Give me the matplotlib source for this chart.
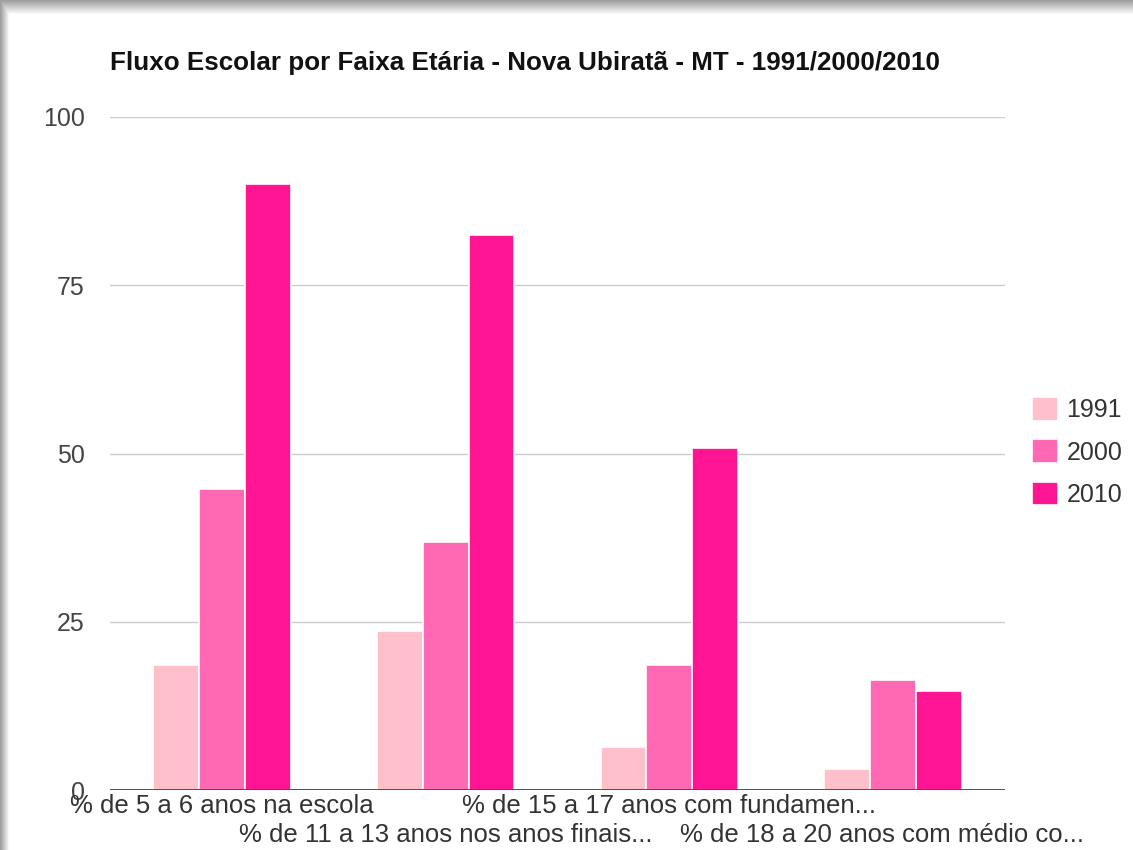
import numpy as np
import matplotlib
matplotlib.use("Agg")
import matplotlib.pyplot as plt

categories = [
    "% de 5 a 6 anos na escola",
    "% de 11 a 13 anos nos anos finais...",
    "% de 15 a 17 anos com fundamen...",
    "% de 18 a 20 anos com médio co...",
]
years = ["1991", "2000", "2010"]
v1991 = [18.6, 23.6, 6.4, 3.1]
v2000 = [44.7, 36.9, 18.6, 16.3]
v2010 = [90.0, 82.5, 50.8, 14.7]
colors = ["#FFC0CB", "#FF69B4", "#FF1493"]

plt.rcParams["font.family"] = ["Liberation Sans", "DejaVu Sans"]

fig = plt.figure(figsize=(11.33, 8.5), dpi=100)

# drop shadow frame along top and left edges
bg = fig.add_axes([0, 0, 1, 1], zorder=-10)
bg.set_axis_off()
h, w = 850, 1133
img = np.ones((h, w))
top = np.clip(np.arange(h) / 14.0, 0, 1)
left = np.clip(np.arange(w) / 9.0, 0, 1)
img = np.minimum(img, 0.62 + 0.38 * top[:, None])
img = np.minimum(img, 0.62 + 0.38 * left[None, :])
bg.imshow(img, cmap="gray", vmin=0, vmax=1, aspect="auto", extent=[0, 1, 0, 1])
bg.set_xlim(0, 1)
bg.set_ylim(0, 1)

ax = fig.add_axes([110 / w, 60 / h, 895 / w, 673 / h])
x = np.arange(len(categories))
width = 0.205
for i, (vals, yr) in enumerate(zip([v1991, v2000, v2010], years)):
    ax.bar(x + (i - 1) * width, vals, width, color=colors[i], edgecolor="white",
           linewidth=1.2, label=yr, zorder=3)

ax.set_xlim(-0.5, 3.5)
ax.set_ylim(0, 100)
ax.set_yticks([0, 25, 50, 75, 100])
ax.grid(axis="y", color="#cccccc", linewidth=1, zorder=0)
ax.axhline(0, color="#333333", linewidth=1.2, zorder=4)
for s in ax.spines.values():
    s.set_visible(False)
ax.tick_params(axis="y", length=0, pad=18, labelsize=18, labelcolor="#444444")
ax.tick_params(axis="x", length=0)
ax.set_xticks(x)
ax.set_xticklabels([])
offsets = [0.0, 0.0, 0.0, -0.05]
for i, lab in enumerate(categories):
    dy = -0.024 if i % 2 == 0 else -0.067
    ax.text(i + offsets[i], dy, lab, transform=ax.get_xaxis_transform(), ha="center", va="center",
            fontsize=18.5, color="#333333")

fig.text(110 / w, 1 - 63 / h, "Fluxo Escolar por Faixa Etária - Nova Ubiratã - MT - 1991/2000/2010",
         fontsize=18.7, fontweight="bold", color="#111111", va="center", ha="left")

ax.legend(loc="center left", bbox_to_anchor=(1019 / w, 1 - 452 / h), bbox_transform=fig.transFigure,
          frameon=False, fontsize=18, handlelength=1.05, handleheight=1.05, labelspacing=0.68,
          handletextpad=0.35, labelcolor="#333333", borderpad=0)

fig.savefig("out.png", dpi=100)
